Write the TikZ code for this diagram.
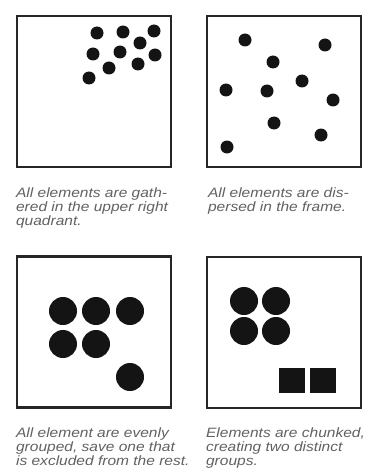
\documentclass[tikz,border=0pt]{standalone}
\usepackage{fontspec}
\setmainfont{Liberation Sans}
\newfontfamily\capfont{Liberation Sans}[FakeStretch=1.15]
\usetikzlibrary{positioning}

\begin{document}
\begin{tikzpicture}[
		x=1pt, y=-1pt,
		node distance=19pt,
		frame/.style={rectangle, draw=black!85, line width=2.2pt, minimum width=154pt, minimum height=151pt, inner sep=0pt},
		caption/.style={inner sep=0pt, align=left, text=black!62, font=\capfont\itshape\fontsize{13.5}{14}\selectfont},
		dot/.style={fill=black!92},
		block/.style={fill=black!92}
		]
		\useasboundingbox (0,0) rectangle (367,476);
		
		% Frames
		\node (f1) [frame] at (94,91.5) {};
		\node (f2) [frame] at (284,91.5) {};
		\node (f3) [frame] at (94,332) {};
		\node (f4) [frame] at (284,332.5) {};
		
		% Dots
		\foreach \x/\y in {97/33, 123/32, 154/31, 140/43, 93/54, 120/52, 155/55, 109/68, 138/64, 89/78}
			\fill [dot] (\x,\y) circle (6.5pt);
		\foreach \x/\y in {245/40, 325/45, 273/62, 302/81, 226/90, 267/91, 333/100, 274/123, 321/135, 227/147}
			\fill [dot] (\x,\y) circle (6.5pt);
		\foreach \x/\y in {63/311, 96/311, 130/311, 63/344, 96/344, 130/377}
			\fill [dot] (\x,\y) circle (14pt);
		\foreach \x/\y in {244/301, 276/301, 244/331, 276/331}
			\fill [dot] (\x,\y) circle (14pt);
		\foreach \x in {279, 310}
			\fill [block] (\x,368) rectangle ++(26,25);
		
		% Captions
		\node (c1) [caption, below right=19pt and 0pt of f1.south west] {All elements are gath-\\ered in the upper right\\quadrant.};
		\node (c2) [caption, below right=19pt and 2pt of f2.south west] {All elements are dis-\\persed in the frame.};
		\node (c3) [caption, below right=19pt and 0pt of f3.south west] {All element are evenly\\grouped, save one that\\is excluded from the rest.};
		\node (c4) [caption, below right=18pt and 0pt of f4.south west] {Elements are chunked,\\creating two distinct\\groups.};
		
	\end{tikzpicture}
\end{document}
